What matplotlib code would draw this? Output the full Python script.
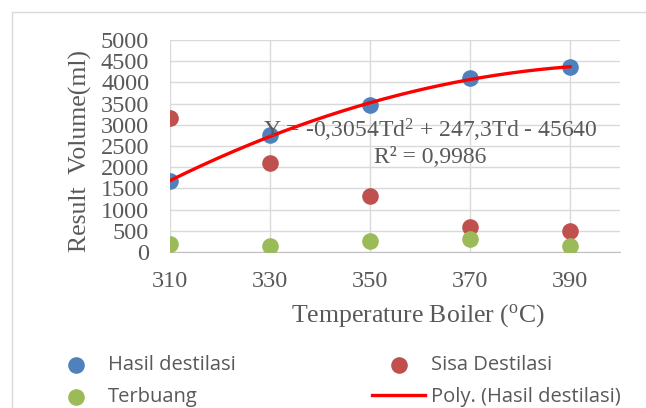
import matplotlib.pyplot as plt
import numpy as np
from matplotlib.patches import Rectangle

temps = [310, 330, 350, 370, 390]
hasil = [1675, 2760, 3465, 4105, 4360]
sisa = [3160, 2100, 1320, 590, 495]
terbuang = [190, 140, 260, 310, 140]

serif = ['Liberation Serif', 'DejaVu Serif']
sans = ['Open Sans', 'DejaVu Sans']
grey = '#595959'

fig = plt.figure(figsize=(6.46, 4.08), dpi=100)
fig.patches.append(Rectangle((12 / 646, -0.1), 1.0, (408 - 12) / 408 + 0.1,
                             transform=fig.transFigure, fill=False,
                             edgecolor='#d9d9d9', linewidth=1.0))
ax = fig.add_axes([170 / 646, 1 - 252 / 408, 450 / 646, 212 / 408])

ax.scatter(temps, hasil, s=120, color='#4f81bd', zorder=3, label='Hasil destilasi')
ax.scatter(temps, sisa, s=120, color='#c0504d', zorder=3, label='Sisa Destilasi')
ax.scatter(temps, terbuang, s=120, color='#9bbb59', zorder=3, label='Terbuang')

# polynomial trendline (order 2) on Hasil destilasi
coef = np.polyfit(temps, hasil, 2)
xs = np.linspace(temps[0], temps[-1], 200)
ax.plot(xs, np.polyval(coef, xs), color='#ff0000', linewidth=2.4, zorder=4,
        label='Poly. (Hasil destilasi)')

ax.set_xlim(310, 400)
ax.set_ylim(0, 5000)
ax.set_xticks(temps)
ax.set_yticks(np.arange(0, 5001, 500))
ax.grid(True, color='#d9d9d9', linewidth=1.0)
ax.set_axisbelow(True)
for s in ['top', 'right', 'left']:
    ax.spines[s].set_visible(False)
ax.spines['bottom'].set_color('#bfbfbf')
ax.tick_params(length=0, labelsize=17.5, colors=grey)
ax.tick_params(axis='y', pad=15)
ax.tick_params(axis='x', pad=14)
for lab in ax.get_xticklabels() + ax.get_yticklabels():
    lab.set_fontfamily(serif)

ax.set_xlabel('Temperature Boiler ($\\mathregular{^{o}}$C)', fontsize=18.5,
              color=grey, family=serif)
ax.xaxis.set_label_coords((418 - 170) / 450, -(316 - 252) / 212)
ax.xaxis.label.set_va('center')
ax.set_ylabel('Result  Volume(ml)', fontsize=18.5, color=grey, family=serif)
ax.yaxis.set_label_coords(-(170 - 80) / 450, (252 - 151) / 212)
ax.yaxis.label.set_va('center')

ax.text(362, 2877, 'Y = -0,3054Td$\\mathregular{^{2}}$ + 247,3Td - 45640',
        ha='center', va='center', fontsize=17, color=grey, family=serif, zorder=5)
ax.text(362, 2240, 'R² = 0,9986', ha='center', va='center', fontsize=17,
        color=grey, family=serif, zorder=5)

h, l = ax.get_legend_handles_labels()
order = [0, 2, 1, 3]
fig.legend([h[i] for i in order], [l[i] for i in order], ncol=2,
           loc='upper left', bbox_to_anchor=(49.5 / 646, 1 - 355 / 408),
           frameon=False, prop={'family': sans, 'size': 14.5}, labelcolor=grey,
           handlelength=2.65, handletextpad=0.27, columnspacing=6.75,
           labelspacing=0.62, borderpad=0, borderaxespad=0)

fig.savefig('out.png', dpi=100)
